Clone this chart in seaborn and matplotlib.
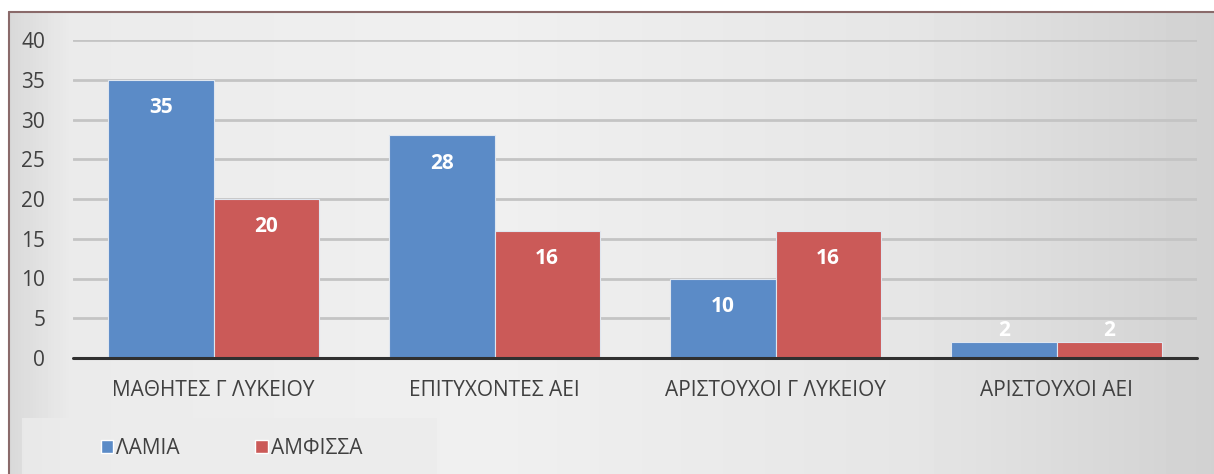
import numpy as np
import pandas as pd
import matplotlib
matplotlib.use('Agg')
import matplotlib.pyplot as plt
import seaborn as sns
from matplotlib.patches import Rectangle

# dados do gráfico
categorias = ['ΜΑΘΗΤΕΣ Γ ΛΥΚΕΙΟΥ', 'ΕΠΙΤΥΧΟΝΤΕΣ ΑΕΙ', 'ΑΡΙΣΤΟΥΧΟΙ Γ ΛΥΚΕΙΟΥ', 'ΑΡΙΣΤΟΥΧΟΙ ΑΕΙ']
lamia = [35, 28, 10, 2]
amfissa = [20, 16, 16, 2]
series = ['ΛΑΜΙΑ', 'ΑΜΦΙΣΣΑ']
yticks = [0, 5, 10, 15, 20, 25, 30, 35, 40]

df = pd.DataFrame({
    'cat': categorias * 2,
    'serie': [series[0]] * 4 + [series[1]] * 4,
    'valor': lamia + amfissa,
})

sns.set_theme(style='white')
plt.rcParams['font.family'] = ['Open Sans', 'DejaVu Sans']

W, H = 1214, 474
fig = plt.figure(figsize=(W / 100, H / 100), dpi=100)
fig.patch.set_facecolor('white')

# fundo em degradê
bg = fig.add_axes([9 / W, 0, 1 - 9 / W, 1 - 12 / H])
grad = np.interp(np.linspace(0, 1, 400), [0, 0.05, 0.4, 0.75, 1.0], [0.85, 0.92, 0.94, 0.90, 0.82])
bg.imshow(np.tile(grad, (10, 1)), cmap='gray', vmin=0, vmax=1, aspect='auto', extent=[0, 1, 0, 1])
bg.set_axis_off()
# borda superior e esquerda
fig.add_artist(plt.Line2D([9 / W, 1], [1 - 12 / H, 1 - 12 / H], color='#8a6a6a', lw=1.5))
fig.add_artist(plt.Line2D([9 / W, 9 / W], [0, 1 - 12 / H], color='#8a6a6a', lw=1.5))
# caixa da legenda
fig.add_artist(Rectangle((22 / W, 0), (437 - 22) / W, (474 - 418) / H, transform=fig.transFigure,
                         facecolor='#ececec', edgecolor='none', alpha=0.8))

ax = fig.add_axes([73 / W, 1 - 358 / H, (1197 - 73) / W, (358 - 40) / H])
ax.patch.set_alpha(0)
cores = {'ΛΑΜΙΑ': '#5b8bc7', 'ΑΜΦΙΣΣΑ': '#cb5a58'}
sns.barplot(data=df, x='cat', y='valor', hue='serie', palette=cores, width=0.75, saturation=1,
            ax=ax, legend=False, edgecolor='#dfe6ef', linewidth=0.8)

ax.set_ylim(0, 40)
ax.set_xlim(-0.5, 3.5)
ax.set_yticks(yticks)
ax.set_yticklabels([str(t) for t in yticks], fontsize=15, color='#404040')
ax.set_xticklabels(categorias, fontsize=15, color='#404040')
ax.tick_params(axis='y', length=0, pad=20)
ax.tick_params(axis='x', length=0, pad=16)
ax.set_xlabel('')
ax.set_ylabel('')
for s in ax.spines.values():
    s.set_visible(False)
for t in yticks[1:]:
    ax.axhline(t, color='#c4c4c4', lw=2, zorder=0)
ax.axhline(0, color='#303030', lw=2.2, zorder=3, clip_on=False)

# rótulos brancos
for cont in ax.containers:
    for bar in cont:
        v = bar.get_height()
        y = v - 3.5 if v > 5 else v + 1.5
        ax.text(bar.get_x() + bar.get_width() / 2, y, f'{v:g}', ha='center', va='center',
                color='white', fontsize=15, fontweight='bold')

# legenda
handles = [Rectangle((0, 0), 1, 1, facecolor=cores[s]) for s in series]
fig.legend(handles, series, loc='center left', bbox_to_anchor=(82 / W, 1 - 448 / H), ncol=2,
           frameon=False, fontsize=15, handlelength=0.6, handleheight=0.6, handletextpad=0.15,
           columnspacing=3.6, labelcolor='#404040')

fig.savefig('out.png', dpi=100)
